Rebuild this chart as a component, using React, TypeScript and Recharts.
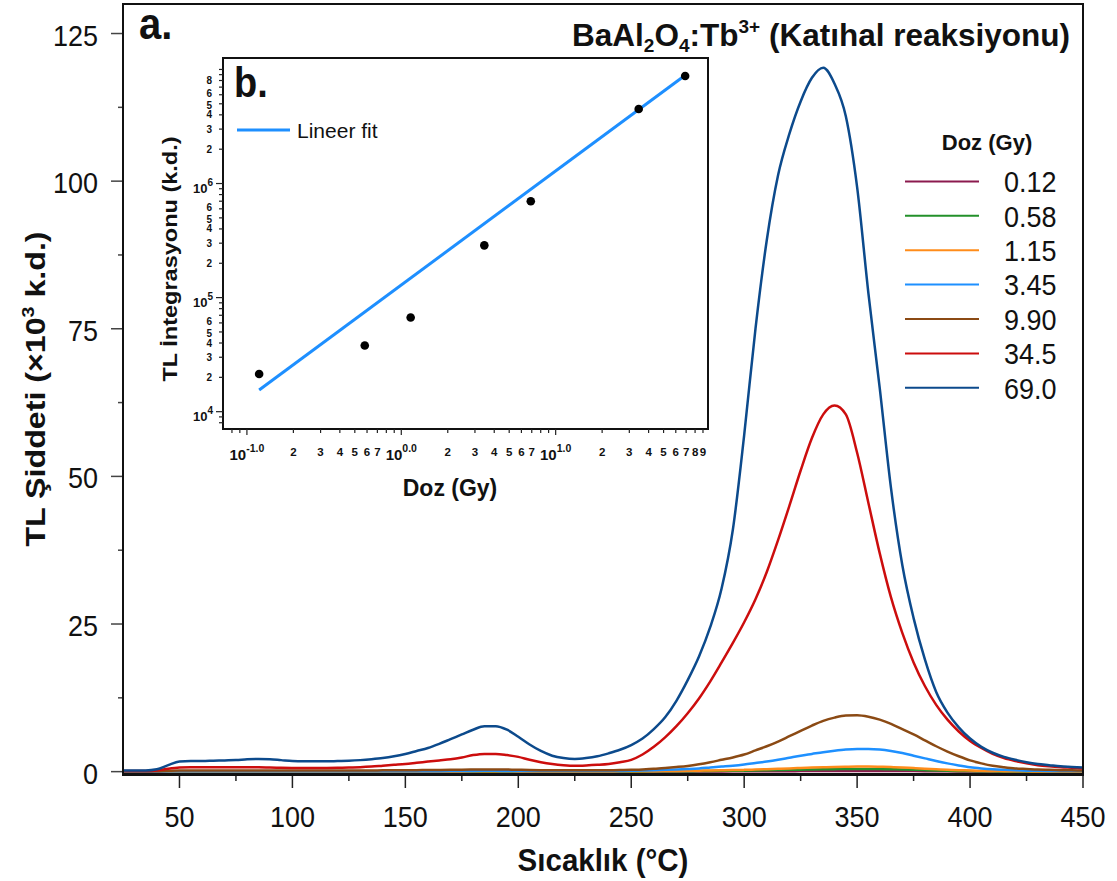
import React from "react";
import {
  LineChart,
  ComposedChart,
  Line,
  Scatter,
  XAxis,
  YAxis,
  Legend,
  Label,
} from "recharts";

const FONT = "'Liberation Sans', Arial, sans-serif";

// Sıcaklık (°C) sampling grid
const temps = [
  25, 30, 35, 40, 45, 50, 55, 60, 65, 70,
  75, 80, 85, 90, 95, 100, 105, 110, 115, 120,
  125, 130, 135, 140, 145, 150, 155, 160, 165, 170,
  175, 180, 185, 190, 195, 200, 205, 210, 215, 220,
  225, 230, 235, 240, 245, 250, 255, 260, 265, 270,
  275, 280, 285, 290, 295, 300, 305, 310, 315, 320,
  325, 330, 335, 340, 345, 350, 355, 360, 365, 370,
  375, 380, 385, 390, 395, 400, 405, 410, 415, 420,
  425, 430, 435, 440, 445, 450,
];

// TL intensity (x10^3 k.d.) per dose
const s012 = [
  0, 0, 0, 0, 0, 0.01, 0.01, 0.01, 0.01, 0.01,
  0.01, 0.01, 0.01, 0.01, 0.01, 0.01, 0.01, 0.01, 0.01, 0.01,
  0.01, 0.01, 0.01, 0.01, 0.01, 0.01, 0.01, 0.01, 0.01, 0.01,
  0.01, 0.01, 0.01, 0.01, 0.01, 0.01, 0.01, 0.01, 0.01, 0.01,
  0.01, 0.01, 0.01, 0.01, 0.01, 0.01, 0.01, 0.015, 0.015, 0.02,
  0.025, 0.03, 0.035, 0.04, 0.045, 0.05, 0.057, 0.065, 0.072, 0.08,
  0.09, 0.1, 0.105, 0.11, 0.115, 0.12, 0.12, 0.115, 0.11, 0.1,
  0.09, 0.075, 0.062, 0.05, 0.04, 0.03, 0.025, 0.02, 0.017, 0.015,
  0.012, 0.01, 0.01, 0.01, 0.01, 0.01,
];

const s058 = [
  0.01, 0.01, 0.01, 0.01, 0.01, 0.02, 0.02, 0.02, 0.02, 0.02,
  0.02, 0.02, 0.02, 0.02, 0.02, 0.02, 0.02, 0.02, 0.02, 0.02,
  0.02, 0.02, 0.02, 0.02, 0.02, 0.02, 0.02, 0.02, 0.02, 0.02,
  0.02, 0.03, 0.03, 0.03, 0.03, 0.02, 0.02, 0.02, 0.02, 0.02,
  0.02, 0.02, 0.02, 0.02, 0.03, 0.03, 0.04, 0.05, 0.06, 0.07,
  0.08, 0.09, 0.11, 0.13, 0.15, 0.17, 0.2, 0.23, 0.26, 0.3,
  0.33, 0.37, 0.4, 0.42, 0.44, 0.45, 0.45, 0.43, 0.4, 0.36,
  0.31, 0.26, 0.21, 0.16, 0.12, 0.09, 0.07, 0.05, 0.04, 0.03,
  0.03, 0.02, 0.02, 0.02, 0.02, 0.02,
];

const s115 = [
  0.02, 0.02, 0.02, 0.02, 0.03, 0.04, 0.04, 0.04, 0.04, 0.04,
  0.04, 0.04, 0.04, 0.04, 0.04, 0.04, 0.04, 0.04, 0.04, 0.04,
  0.04, 0.04, 0.04, 0.04, 0.04, 0.04, 0.04, 0.04, 0.04, 0.04,
  0.04, 0.05, 0.05, 0.05, 0.05, 0.04, 0.04, 0.04, 0.04, 0.04,
  0.04, 0.04, 0.04, 0.04, 0.05, 0.06, 0.07, 0.08, 0.1, 0.12,
  0.14, 0.16, 0.19, 0.22, 0.26, 0.3, 0.36, 0.42, 0.48, 0.55,
  0.62, 0.68, 0.74, 0.8, 0.83, 0.85, 0.85, 0.82, 0.77, 0.7,
  0.6, 0.5, 0.41, 0.32, 0.25, 0.18, 0.14, 0.1, 0.08, 0.06,
  0.05, 0.04, 0.04, 0.03, 0.03, 0.03,
];

const s345 = [
  0.03, 0.03, 0.03, 0.04, 0.06, 0.08, 0.08, 0.08, 0.08, 0.08,
  0.08, 0.08, 0.08, 0.08, 0.08, 0.08, 0.08, 0.08, 0.08, 0.08,
  0.08, 0.08, 0.08, 0.08, 0.08, 0.08, 0.08, 0.08, 0.08, 0.09,
  0.1, 0.12, 0.13, 0.13, 0.12, 0.11, 0.1, 0.1, 0.1, 0.1,
  0.1, 0.1, 0.1, 0.11, 0.12, 0.15, 0.2, 0.25, 0.3, 0.37,
  0.45, 0.55, 0.7, 0.85, 1.0, 1.2, 1.45, 1.7, 2.0, 2.35,
  2.7, 3.0, 3.3, 3.55, 3.75, 3.85, 3.85, 3.75, 3.5, 3.15,
  2.7, 2.25, 1.8, 1.4, 1.05, 0.75, 0.55, 0.4, 0.3, 0.22,
  0.17, 0.14, 0.12, 0.1, 0.1, 0.1,
];

const s990 = [
  0.05, 0.05, 0.05, 0.08, 0.15, 0.2, 0.2, 0.2, 0.2, 0.2,
  0.2, 0.2, 0.2, 0.2, 0.2, 0.2, 0.2, 0.2, 0.2, 0.2,
  0.2, 0.2, 0.2, 0.22, 0.22, 0.24, 0.25, 0.27, 0.28, 0.3,
  0.32, 0.35, 0.37, 0.37, 0.35, 0.32, 0.28, 0.25, 0.23, 0.22,
  0.22, 0.22, 0.23, 0.24, 0.26, 0.3, 0.38, 0.48, 0.62, 0.78,
  0.97, 1.25, 1.6, 2.0, 2.4, 2.9, 3.6, 4.3, 5.1, 6.0,
  6.9, 7.8, 8.6, 9.15, 9.5, 9.55, 9.3, 8.8, 8.1, 7.2,
  6.3, 5.3, 4.3, 3.4, 2.6, 1.9, 1.4, 1.0, 0.75, 0.55,
  0.45, 0.35, 0.3, 0.25, 0.22, 0.2,
];

const s3450 = [
  0.1, 0.1, 0.1, 0.2, 0.5, 0.7, 0.75, 0.75, 0.75, 0.75,
  0.75, 0.75, 0.75, 0.7, 0.65, 0.62, 0.6, 0.6, 0.62, 0.65,
  0.7, 0.75, 0.85, 1.0, 1.15, 1.3, 1.5, 1.7, 1.9, 2.1,
  2.4, 2.8, 3.0, 3.0, 2.8, 2.5, 2.0, 1.6, 1.3, 1.1,
  1.0, 1.05, 1.15, 1.3, 1.6, 2.0, 2.9, 4.2, 5.8, 7.7,
  9.9, 12.4, 15.3, 18.5, 21.8, 25.3, 29.2, 33.8, 39.2, 45,
  51, 56.5, 60.5, 62, 60.5, 54, 45.5, 37, 29.5, 23.5,
  18.5, 14.5, 11.3, 8.8, 6.8, 5.2, 4.0, 3.0, 2.3, 1.8,
  1.4, 1.1, 0.9, 0.75, 0.65, 0.55,
];

const s6900 = [
  0.2, 0.2, 0.2, 0.4, 1.1, 1.7, 1.8, 1.8, 1.85, 1.9,
  1.95, 2.1, 2.15, 2.1, 1.95, 1.8, 1.75, 1.75, 1.75, 1.8,
  1.85, 1.95, 2.1, 2.3, 2.6, 3.0, 3.5, 4.0, 4.7, 5.5,
  6.3, 7.1, 7.7, 7.7, 7.1, 5.9, 4.6, 3.5, 2.7, 2.3,
  2.15, 2.3, 2.6, 3.1, 3.7, 4.5, 5.6, 7.2, 9.2, 12.0,
  15.5, 19.5, 24.5, 31, 41, 57, 75, 90, 101, 108,
  113.5, 117.5, 119.2, 116.5, 111, 99, 81, 65, 48, 35,
  26, 19, 13.5, 10, 7.5, 5.6, 4.2, 3.2, 2.5, 2.0,
  1.6, 1.3, 1.1, 0.9, 0.8, 0.7,
];

const doseLabels = ["0.12", "0.58", "1.15", "3.45", "9.90", "34.5", "69.0"];
const doseColors = ["#8b1a4e", "#23902a", "#ff8c1a", "#1e90ff", "#8b4a14", "#cc0d0d", "#0c4a8c"];
const doseValues = [s012, s058, s115, s345, s990, s3450, s6900];

const xTicks = [50, 75, 100, 125, 150, 175, 200, 225, 250, 275, 300, 325, 350, 375, 400, 425, 450];
const yTicks = [0, 12.5, 25, 37.5, 50, 62.5, 75, 87.5, 100, 112.5, 125];

// inset b.: integrated TL vs dose (log-log)
const insetDose = [0.12, 0.58, 1.15, 3.45, 6.9, 34.5, 69.0];
const insetTL = [2.14e4, 3.8e4, 6.7e4, 2.87e5, 7.0e5, 4.5e6, 8.75e6];
const fitDose = [0.12, 66];
const fitTL = [1.55e4, 8.5e6];

const insetXTicks = [
  0.08, 0.09, 0.1, 0.2, 0.3, 0.4, 0.5, 0.6, 0.7, 0.8, 0.9,
  1, 2, 3, 4, 5, 6, 7, 8, 9,
  10, 20, 30, 40, 50, 60, 70, 80, 90,
];
const insetXLabels = [
  "", "", "10|-1.0", "2", "3", "4", "5", "6", "7", "", "",
  "10|0.0", "2", "3", "4", "5", "6", "7", "", "",
  "10|1.0", "2", "3", "4", "5", "6", "7", "8", "9",
];
const insetYTicks = [
  8000, 9000,
  1e4, 2e4, 3e4, 4e4, 5e4, 6e4, 7e4, 8e4, 9e4,
  1e5, 2e5, 3e5, 4e5, 5e5, 6e5, 7e5, 8e5, 9e5,
  1e6, 2e6, 3e6, 4e6, 5e6, 6e6, 7e6, 8e6, 9e6,
  1e7,
];
const insetYLabels = [
  "", "",
  "10|4", "2", "3", "4", "5", "6", "", "", "",
  "10|5", "2", "3", "4", "5", "6", "", "", "",
  "10|6", "2", "3", "4", "5", "6", "", "8", "",
  "",
];

const rows = temps.map((t, i) => {
  const r: Record<string, number> = { t };
  doseValues.forEach((vals, k) => {
    r["d" + k] = vals[i];
  });
  return r;
});

const insetPts = insetDose.map((x, i) => ({ x, y: insetTL[i] }));
const fitPts = fitDose.map((x, i) => ({ x, y: fitTL[i] }));

const findLabel = (ticks: number[], labels: string[], v: number) => {
  const i = ticks.findIndex((t) => Math.abs(t - v) / t < 1e-6);
  return i >= 0 ? labels[i] : "";
};

const MainXTick = (props: any) => {
  const { x, y, payload } = props;
  const v = payload.value;
  const major = v % 50 === 0;
  return (
    <g>
      <line x1={x} x2={x} y1={y} y2={y + (major ? 14 : 7)} stroke="#222" strokeWidth={1.5} />
      {major && (
        <text
          transform={`translate(${x},${y + 53}) scale(1,1.12)`}
          textAnchor="middle"
          fontSize={27}
          fontFamily={FONT}
          fill="#111"
        >
          {v}
        </text>
      )}
    </g>
  );
};

const MainYTick = (props: any) => {
  const { x, y, payload } = props;
  const v = payload.value;
  const major = v % 25 === 0;
  return (
    <g>
      <line x1={x} x2={x - (major ? 12 : 5)} y1={y} y2={y} stroke="#444" strokeWidth={1.5} />
      {major && (
        <text
          transform={`translate(${x - 25},${y + 12}) scale(1,1.12)`}
          textAnchor="end"
          fontSize={27}
          fontFamily={FONT}
          fill="#111"
        >
          {v}
        </text>
      )}
    </g>
  );
};

const InsetXTick = (props: any) => {
  const { x, y, payload } = props;
  const v = payload.value;
  const lab = findLabel(insetXTicks, insetXLabels, v);
  const major = lab.includes("|");
  const [base, exp] = lab.split("|");
  return (
    <g>
      <line x1={x} x2={x} y1={y} y2={y + (major ? 6 : 4)} stroke="#222" strokeWidth={1.2} />
      {major ? (
        <text x={x} y={y + 31} textAnchor="middle" fontWeight="bold" fontFamily={FONT} fill="#111">
          <tspan fontSize={15}>{base}</tspan>
          <tspan fontSize={10.5} dy={-8}>{exp}</tspan>
        </text>
      ) : lab ? (
        <text x={x} y={y + 27} textAnchor="middle" fontSize={11.5} fontWeight="bold" fontFamily={FONT} fill="#111">
          {lab}
        </text>
      ) : null}
    </g>
  );
};

const InsetYTick = (props: any) => {
  const { x, y, payload } = props;
  const v = payload.value;
  const lab = findLabel(insetYTicks, insetYLabels, v);
  const major = lab.includes("|");
  const [base, exp] = lab.split("|");
  // the 6 and 5 labels sit only a few pixels apart, nudge them apart
  const nudge = lab === "6" ? -1.5 : lab === "5" ? 1.5 : 0;
  return (
    <g>
      <line x1={x} x2={x - (major ? 7 : 4)} y1={y} y2={y} stroke="#222" strokeWidth={1.2} />
      {major ? (
        <text x={x - 10} y={y + 9} textAnchor="end" fontWeight="bold" fontFamily={FONT} fill="#111">
          <tspan fontSize={13}>{base}</tspan>
          <tspan fontSize={10} dy={-7}>{exp}</tspan>
        </text>
      ) : lab ? (
        <text x={x - 11} y={y + 3.5 + nudge} textAnchor="end" fontSize={10} fontWeight="bold" fontFamily={FONT} fill="#111">
          {lab}
        </text>
      ) : null}
    </g>
  );
};

const DoseLegend = () => (
  <svg width={230} height={290} style={{ overflow: "visible" }}>
    <text x={107} y={35} textAnchor="middle" fontSize={22} fontWeight="bold" fontFamily={FONT} fill="#111">
      Doz (Gy)
    </text>
    {doseLabels.map((lab, i) => {
      const ly = 66.4 + 34.4 * i;
      return (
        <g key={lab}>
          <line x1={25} x2={99} y1={ly} y2={ly} stroke={doseColors[i]} strokeWidth={2} />
          <text
            transform={`translate(124,${ly + 10.8}) scale(1,1.12)`}
            fontSize={27}
            fontFamily={FONT}
            fill="#111"
          >
            {lab}
          </text>
        </g>
      );
    })}
  </svg>
);

const FitLegend = () => (
  <svg width={160} height={30} style={{ overflow: "visible" }}>
    <line x1={2} x2={55} y1={10} y2={10} stroke="#1e8fff" strokeWidth={3} />
    <text x={62} y={17.5} fontSize={21} fontFamily={FONT} fill="#111">
      Lineer fit
    </text>
  </svg>
);

export default function App() {
  return (
    <div
      style={{
        position: "absolute",
        left: 0,
        top: 0,
        width: 1117,
        height: 881,
        background: "#fff",
        fontFamily: FONT,
        overflow: "hidden",
      }}
    >
      <LineChart width={1117} height={881} data={rows} margin={{ top: 4, right: 34, bottom: 0, left: 0 }}>
        <XAxis
          dataKey="t"
          type="number"
          domain={[25, 450]}
          allowDataOverflow
          ticks={xTicks}
          interval={0}
          height={107}
          axisLine={false}
          tickLine={false}
          tickSize={0}
          tickMargin={0}
          tick={<MainXTick />}
        >
          <Label
            content={() => (
              <text
                transform="translate(603,871) scale(1,1.08)"
                textAnchor="middle"
                fontSize={29.5}
                fontWeight="bold"
                fontFamily={FONT}
                fill="#111"
              >
                Sıcaklık (°C)
              </text>
            )}
          />
        </XAxis>
        <YAxis
          type="number"
          domain={[-0.4, 130]}
          allowDataOverflow
          ticks={yTicks}
          interval={0}
          width={123}
          axisLine={false}
          tickLine={false}
          tickSize={0}
          tickMargin={0}
          tick={<MainYTick />}
        >
          <Label
            content={() => (
              <text
                transform="translate(45,389) scale(1,1.15) rotate(-90)"
                textAnchor="middle"
                fontSize={28}
                fontWeight="bold"
                fontFamily={FONT}
                fill="#111"
              >
                TL Şiddeti (×10
                <tspan fontSize={17} dy={-11}>3</tspan>
                <tspan dy={11}> k.d.)</tspan>
              </text>
            )}
          />
        </YAxis>
        <Legend
          layout="vertical"
          align="center"
          verticalAlign="middle"
          content={() => <DoseLegend />}
          wrapperStyle={{ left: 880, top: 115, width: 230, height: 290 }}
        />
        {doseLabels.map((lab, k) => (
          <Line
            key={lab}
            dataKey={"d" + k}
            name={lab}
            type="monotone"
            stroke={doseColors[k]}
            strokeWidth={2.5}
            dot={false}
            isAnimationActive={false}
          />
        ))}
      </LineChart>

      {/* plot frame */}
      <div
        style={{
          position: "absolute",
          left: 122,
          top: 3,
          width: 962,
          height: 773,
          borderStyle: "solid",
          borderColor: "#111",
          borderWidth: "2px 2px 3px 2px",
          boxSizing: "border-box",
          pointerEvents: "none",
        }}
      />

      {/* inset frame */}
      <div
        style={{
          position: "absolute",
          left: 222,
          top: 57,
          width: 487,
          height: 373,
          border: "2px solid #111",
          boxSizing: "border-box",
          background: "#fff",
        }}
      />
      <div style={{ position: "absolute", left: 150, top: 40 }}>
        <ComposedChart width={570} height={480} margin={{ top: 18, right: 12, bottom: 0, left: 0 }}>
          <XAxis
            dataKey="x"
            type="number"
            scale="log"
            domain={[0.07, 97]}
            allowDataOverflow
            ticks={insetXTicks}
            interval={0}
            height={91}
            axisLine={false}
            tickLine={false}
            tickSize={0}
            tickMargin={0}
            tick={<InsetXTick />}
          >
            <Label
              content={() => (
                <text x={300} y={456} textAnchor="middle" fontSize={23} fontWeight="bold" fontFamily={FONT} fill="#111">
                  Doz (Gy)
                </text>
              )}
            />
          </XAxis>
          <YAxis
            dataKey="y"
            type="number"
            scale="log"
            domain={[7050, 1.26e7]}
            allowDataOverflow
            ticks={insetYTicks}
            interval={0}
            width={73}
            axisLine={false}
            tickLine={false}
            tickSize={0}
            tickMargin={0}
            tick={<InsetYTick />}
          >
            <Label
              content={() => (
                <text
                  transform="translate(27,219) scale(1,1.12) rotate(-90)"
                  textAnchor="middle"
                  fontSize={21}
                  fontWeight="bold"
                  fontFamily={FONT}
                  fill="#111"
                >
                  TL İntegrasyonu (k.d.)
                </text>
              )}
            />
          </YAxis>
          <Legend
            layout="vertical"
            align="center"
            verticalAlign="middle"
            content={() => <FitLegend />}
            wrapperStyle={{ left: 85, top: 80, width: 160, height: 30 }}
          />
          <Line
            data={fitPts}
            dataKey="y"
            name="Lineer fit"
            type="linear"
            stroke="#1e8fff"
            strokeWidth={3}
            dot={false}
            isAnimationActive={false}
          />
          <Scatter
            data={insetPts}
            dataKey="y"
            fill="#000"
            isAnimationActive={false}
            shape={(p: any) => <circle cx={p.cx} cy={p.cy} r={4.3} fill="#000" />}
          />
        </ComposedChart>
      </div>

      {/* panel letters and title */}
      <svg
        width={1117}
        height={881}
        style={{ position: "absolute", left: 0, top: 0, pointerEvents: "none" }}
      >
        <text transform="translate(139,39) scale(1,1.12)" fontSize={40} fontWeight="bold" fontFamily={FONT} fill="#111">
          a.
        </text>
        <text transform="translate(234,97) scale(1,1.12)" fontSize={38} fontWeight="bold" fontFamily={FONT} fill="#111">
          b.
        </text>
        <text
          transform="translate(1070,46)"
          textAnchor="end"
          fontSize={31.5}
          fontWeight="bold"
          fontFamily={FONT}
          fill="#111"
        >
          BaAl
          <tspan fontSize={19} dy={6}>2</tspan>
          <tspan dy={-6}>O</tspan>
          <tspan fontSize={19} dy={6}>4</tspan>
          <tspan dy={-6}>:Tb</tspan>
          <tspan fontSize={19} dy={-13}>3+</tspan>
          <tspan dy={13}> (Katıhal reaksiyonu)</tspan>
        </text>
      </svg>
    </div>
  );
}
